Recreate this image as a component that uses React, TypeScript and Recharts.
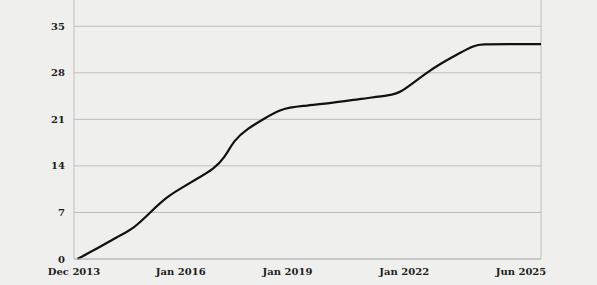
import React from 'react';
import { LineChart, Line, XAxis, YAxis, CartesianGrid, ReferenceLine } from 'recharts';

// x is the position along the time axis (irregular label spacing in the original)
const xPos = [1, 8, 13, 18, 23, 28, 32, 37, 42, 45, 48, 52, 57, 62, 68, 78, 86, 95, 98, 102, 106, 110, 116, 120, 122, 130, 140];
const values = [0, 1.85, 3.35, 4.6, 7.1, 9.4, 10.6, 12.1, 13.6, 15.1, 17.9, 19.6, 21.1, 22.6, 23.0, 23.5, 24.1, 24.6, 25.1, 26.6, 28.1, 29.4, 31.1, 32.1, 32.3, 32.3, 32.3];

const xTicks = [0, 32, 64, 99, 134];
const xTickLabels = ['Dec 2013', 'Jan 2016', 'Jan 2019', 'Jan 2022', 'Jun 2025'];
const yTicks = [0, 7, 14, 21, 28, 35];

const data = xPos.map((x, i) => ({ x, v: values[i] }));

const tickStyle = { fill: '#1e1e1e', fontSize: 10, fontWeight: 700, fontFamily: 'DejaVu Serif' };

export default function App() {
    return (
        <div style={{ position: 'absolute', left: 0, top: -7, width: 597, height: 292, background: '#efefed', fontFamily: 'DejaVu Serif' }}>
            <LineChart width={597} height={292} data={data} margin={{ top: 0, right: 56, left: 0, bottom: 0 }} style={{ fontFamily: 'DejaVu Serif' }}>
                <CartesianGrid vertical={false} stroke="#bcbcbc" strokeWidth={1} />
                <XAxis
                    type="number"
                    dataKey="x"
                    domain={[0, 140]}
                    ticks={xTicks}
                    tickFormatter={(v: number) => xTickLabels[xTicks.indexOf(v)] ?? ''}
                    tick={tickStyle}
                    stroke="#bcbcbc"
                    tickLine={false}
                    tickSize={0}
                    tickMargin={9}
                    height={26}
                    interval={0}
                />
                <YAxis
                    type="number"
                    domain={[0, 40]}
                    ticks={yTicks}
                    tick={tickStyle}
                    stroke="#bcbcbc"
                    tickLine={false}
                    tickSize={0}
                    tickMargin={9}
                    width={74}
                    interval={0}
                />
                <ReferenceLine x={140} stroke="#bcbcbc" />
                <Line type="basis" dataKey="v" stroke="#111" strokeWidth={2.2} dot={false} isAnimationActive={false} />
            </LineChart>
        </div>
    );
}
